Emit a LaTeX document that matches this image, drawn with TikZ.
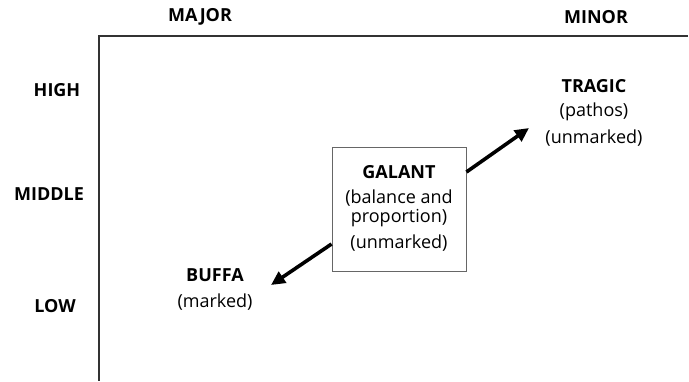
\documentclass[tikz,border=0pt]{standalone}
\usepackage{fontspec}
\setmainfont{Open Sans}
\usetikzlibrary{arrows.meta}
\begin{document}
\begin{tikzpicture}[x=1pt,y=-1pt,
  lbl/.style={font=\fontsize{18}{20}\selectfont\bfseries, inner sep=0pt},
  note/.style={font=\fontsize{18}{20}\selectfont, inner sep=0pt, align=center},
  axis/.style={draw=black!80, line width=1.2pt},
  framebox/.style={draw=black!60, line width=0.9pt},
  bigarrow/.style={line width=3.6pt, -{Triangle[length=14pt,width=13pt]}}]
  \useasboundingbox (0,0) rectangle (689,381);
  % axes
  \coordinate (corner) at (99,36);
  \coordinate (xend) at (688,36);
  \coordinate (yend) at (99,381);
  \draw[axis] (xend) -- (corner) -- (yend);
  % column and row headings
  \node[lbl] (major) at (200,17) {MAJOR};
  \node[lbl] (minor) at (596,17) {MINOR};
  \node[lbl] (high) at (57,90) {HIGH};
  \node[lbl] (middle) at (49,194) {MIDDLE};
  \node[lbl] (low) at (55,306) {LOW};
  % tragic
  \node[lbl] (tragic) at (594,86) {TRAGIC};
  \node[note] (pathos) at (594,112) {(pathos)};
  \node[note] (tragicu) at (594,138) {(unmarked)};
  % buffa
  \node[lbl] (buffa) at (215,275) {BUFFA};
  \node[note] (marked) at (215,302) {(marked)};
  % galant box
  \node[framebox, minimum width=134pt, minimum height=124pt, inner sep=0pt] (galant) at (399,209) {};
  \node[lbl] (galantt) at (399,172) {GALANT};
  \node[note, font=\fontsize{18}{19}\selectfont] (balance) at (399,208) {(balance and\\proportion)};
  \node[note] (galantu) at (399,243) {(unmarked)};
  % arrows
  \coordinate (tragictip) at (529,128);
  \coordinate (buffatip) at (271,285);
  \draw[bigarrow] (galant.east |- 0,172) -- (tragictip);
  \draw[bigarrow] (galant.west |- 0,244) -- (buffatip);
\end{tikzpicture}
\end{document}
